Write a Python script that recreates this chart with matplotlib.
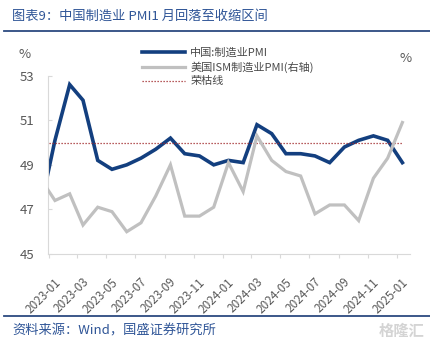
"""
China manufacturing PMI vs US ISM manufacturing PMI, monthly.
"""

import pandas as pd
import matplotlib
matplotlib.use("Agg")
import matplotlib.pyplot as plt
import matplotlib.dates as mdates
import matplotlib.transforms as mtransforms

plt.rcParams['font.family'] = ['Noto Sans CJK SC', 'DejaVu Sans']

# Monthly readings, 2022-12 .. 2025-01
MONTHS = pd.date_range("2022-12-01", "2025-01-01", freq="MS") + pd.Timedelta(days=12)
CHINA_PMI = [47.0, 50.1, 52.6, 51.9, 49.2, 48.8, 49.0, 49.3, 49.7, 50.2, 49.5, 49.4, 49.0,
             49.2, 49.1, 50.8, 50.4, 49.5, 49.5, 49.4, 49.1, 49.8, 50.1, 50.3, 50.1, 49.1]
US_ISM_PMI = [48.4, 47.4, 47.7, 46.3, 47.1, 46.9, 46.0, 46.4, 47.6, 49.0, 46.7, 46.7, 47.1,
              49.1, 47.8, 50.3, 49.2, 48.7, 48.5, 46.8, 47.2, 47.2, 46.5, 48.4, 49.3, 50.9]
BOOM_BUST = [50.0] * len(MONTHS)

TICK_DATES = pd.date_range("2023-01-01", "2025-01-01", freq="2MS")
Y_TICKS = [45, 47, 49, 51, 53]

TITLE = "图表9：中国制造业 PMI1 月回落至收缩区间"
SOURCE = "资料来源：Wind，国盛证券研究所"

BLUE = "#133f7f"
GRAY = "#c0c0c0"
RED = "#a0282a"
TEXT_BLUE = "#2f5597"
AXIS_GRAY = "#d9d9d9"
LABEL_GRAY = "#595959"


def main():
    fig = plt.figure(figsize=(4.30, 3.49), dpi=100)
    W, H = 430, 349

    ax = fig.add_axes([48.3 / W, 1 - 254 / H, (410 - 48.3) / W, (254 - 75.7) / H])
    ax2 = ax.twinx()

    l1, = ax.plot(MONTHS, CHINA_PMI, color=BLUE, lw=2.6, solid_joinstyle='miter',
                  label="中国:制造业PMI")
    l3, = ax.plot(MONTHS, BOOM_BUST, color=RED, lw=0.9, linestyle=(0, (1, 1.4)),
                  label="荣枯线")
    l2, = ax2.plot(MONTHS, US_ISM_PMI, color=GRAY, lw=2.3, solid_joinstyle='miter',
                   label="美国ISM制造业PMI(右轴)")

    for a in (ax, ax2):
        a.set_ylim(45, 53)
        a.set_xlim(pd.Timestamp("2022-12-30"), pd.Timestamp("2025-01-29"))
        for s in a.spines.values():
            s.set_visible(False)

    ax.spines['left'].set_visible(True)
    ax.spines['bottom'].set_visible(True)
    ax.spines['left'].set_color(AXIS_GRAY)
    ax.spines['bottom'].set_color(AXIS_GRAY)

    ax.set_yticks(Y_TICKS)
    ax.tick_params(axis='y', direction='in', length=3, color=AXIS_GRAY,
                   labelsize=9.5, labelcolor=LABEL_GRAY, pad=10)
    ax2.set_yticks([])

    ax.set_xticks(TICK_DATES)
    ax.xaxis.set_major_formatter(mdates.DateFormatter("%Y-%m"))
    ax.tick_params(axis='x', direction='out', length=3, color=AXIS_GRAY,
                   labelsize=8.5, labelcolor=LABEL_GRAY, pad=12.5)
    # nudge the rotated date labels a few pixels to the right
    shift = mtransforms.ScaledTranslation(5 / 100, 0, fig.dpi_scale_trans)
    for lab in ax.get_xticklabels():
        lab.set_rotation(45)
        lab.set_ha('right')
        lab.set_va('top')
        lab.set_rotation_mode('anchor')
        lab.set_transform(lab.get_transform() + shift)

    ax2.legend(handles=[l1, l2, l3], loc='upper left',
               bbox_to_anchor=(142 / W, 1 - 48 / H), bbox_transform=fig.transFigure,
               frameon=False, fontsize=8, handlelength=3.9, handletextpad=0.45,
               labelspacing=0.3, borderpad=0, borderaxespad=0, labelcolor="#4a4a4a")

    fig.text(25 / W, 1 - 55 / H, "%", ha='center', va='center', fontsize=9.5, color=LABEL_GRAY)
    fig.text(406 / W, 1 - 59 / H, "%", ha='center', va='center', fontsize=9.5, color=LABEL_GRAY)

    # header and footer
    fig.text(12 / W, 1 - 16 / H, TITLE, ha='left', va='center', fontsize=9.5,
             color=TEXT_BLUE, style='italic')
    fig.add_artist(plt.Line2D([4 / W, 1], [1 - 31 / H] * 2, color="#2c4a80", lw=1.3,
                              transform=fig.transFigure))
    fig.add_artist(plt.Line2D([4 / W, 1], [1 - 316 / H] * 2, color="#2c4a80", lw=1.3,
                              transform=fig.transFigure))
    fig.text(12 / W, 1 - 331 / H, SOURCE, ha='left', va='center', fontsize=9.5,
             color=TEXT_BLUE, style='italic')
    fig.text(424 / W, 1 - 331 / H, "格隆汇", ha='right', va='center', fontsize=11,
             color="#d4d4d4", fontweight='bold')

    fig.savefig("out.png", dpi=100)
    plt.close(fig)


if __name__ == "__main__":
    main()
